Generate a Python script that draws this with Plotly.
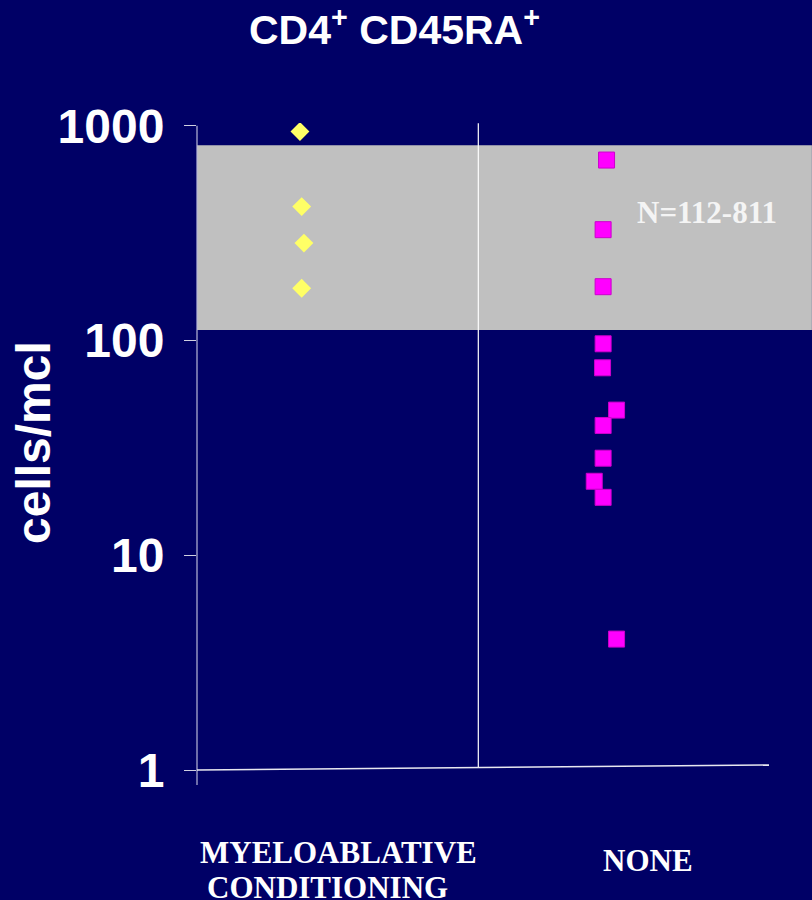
import numpy as np
import plotly.graph_objects as go

# ---- data ---------------------------------------------------------------
group_labels = ["MYELOABLATIVE<br>CONDITIONING", "NONE"]
group_centers = [0.366, 1.42]          # x position of each group on a 0..2 axis

myelo_values = [940, 420, 284, 175]
myelo_jitter = [-0.006, 0.0, 0.008, 0.0]

none_values = [692, 328, 178, 96.5, 74.6, 47.4, 40.2, 28.3, 22.1, 18.6, 4.07]
none_jitter = [0.012, 0.0, 0.0, 0.0, -0.002, 0.047, 0.0, 0.0, -0.031, 0.0, 0.047]

normal_range = [112, 811]              # reference interval, cells/mcl
y_ticks = [1, 10, 100, 1000]

# ---- styling ------------------------------------------------------------
NAVY = "#000066"
SANS = "Liberation Sans, Arial, sans-serif"
SERIF = "Liberation Serif, Times New Roman, serif"

fig = go.Figure()

fig.add_trace(go.Scatter(
    x=[group_centers[0] + j for j in myelo_jitter],
    y=myelo_values,
    mode="markers",
    marker=dict(symbol="diamond", size=14.5, color="#FFFF66",
                line=dict(width=0)),
    showlegend=False,
))

fig.add_trace(go.Scatter(
    x=[group_centers[1] + j for j in none_jitter],
    y=none_values,
    mode="markers",
    marker=dict(symbol="square", size=16, color="#FF00FF",
                line=dict(width=1, color="#CC00CC")),
    showlegend=False,
))

# normal-range band
fig.add_shape(type="rect", xref="paper", yref="y",
              x0=0, x1=1.075, y0=normal_range[0], y1=normal_range[1],
              fillcolor="#C0C0C0", line=dict(width=0), layer="below")

# frame lines: left axis, slightly tilted baseline, group divider
fig.add_shape(type="line", xref="paper", yref="paper",
              x0=0, x1=0, y0=-0.0232, y1=0.9958,
              line=dict(color="#B8B8D8", width=1.2), layer="above")
fig.add_shape(type="line", xref="paper", yref="paper",
              x0=0, x1=1.0, y0=0.0, y1=0.0077,
              line=dict(color="#E8E8F0", width=1.5), layer="above")
fig.add_shape(type="line", xref="paper", yref="paper",
              x0=0.4918, x1=0.4918, y0=0.0046, y1=0.9995,
              line=dict(color="#FFFFFF", width=1.2), layer="above")

annotations = [
    dict(text="CD4<sup>+</sup> CD45RA<sup>+</sup>", x=0.346, y=1.148,
         font=dict(family=SANS, size=41, color="white", weight="bold")),
    dict(text="cells/mcl", x=-0.2867, y=0.5054, textangle=-90,
         font=dict(family=SANS, size=48, color="white", weight="bold")),
    dict(text="N=112-811", x=0.8916, y=0.861,
         font=dict(family=SERIF, size=31, color="#F4F4F4", weight="bold")),
    dict(text="MYELOABLATIVE", x=0.248, y=-0.127,
         font=dict(family=SERIF, size=31, color="white", weight="bold")),
    dict(text="CONDITIONING", x=0.229, y=-0.181,
         font=dict(family=SERIF, size=31, color="white", weight="bold")),
    dict(text="NONE", x=0.7885, y=-0.140,
         font=dict(family=SERIF, size=31, color="white", weight="bold")),
]
for a in annotations:
    a.update(xref="paper", yref="paper", xanchor="center", yanchor="middle",
             showarrow=False)

fig.update_layout(
    width=812, height=900,
    margin=dict(l=197, r=43, t=123, b=130),
    paper_bgcolor=NAVY,
    plot_bgcolor="rgba(0,0,0,0)",
    annotations=annotations,
    xaxis=dict(range=[0, 2], showgrid=False, zeroline=False, showline=False,
               showticklabels=False, ticks=""),
    yaxis=dict(type="log", range=[0, 3.0126], showgrid=False, zeroline=False,
               showline=False, tickvals=y_ticks,
               ticktext=[str(v) for v in y_ticks],
               ticks="outside", ticklen=12, tickwidth=1.2, tickcolor="#D0D0E0",
               ticklabelstandoff=10,
               tickfont=dict(family=SANS, size=48, color="white",
                             weight="bold")),
)

fig.write_html("out.html")
